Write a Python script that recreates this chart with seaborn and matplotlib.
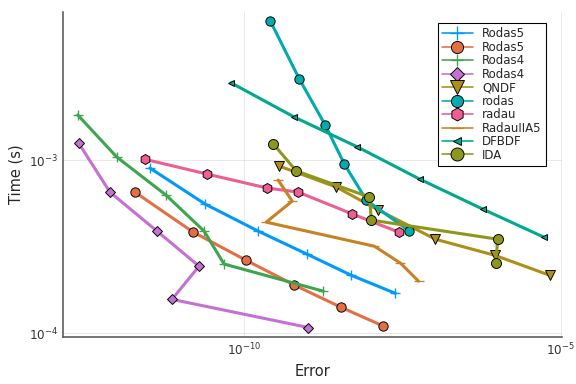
import numpy as np
import pandas as pd
import matplotlib
matplotlib.use("Agg")
import matplotlib.pyplot as plt
import seaborn as sns

# values (error, time in s)
rodas5_a_err = [3.25e-12, 2.42e-11, 1.66e-10, 9.9e-10, 4.93e-9, 2.45e-8]
rodas5_a_time = [8.99e-4, 5.57e-4, 3.89e-4, 2.86e-4, 2.16e-4, 1.70e-4]

rodas5_b_err = [1.88e-12, 1.56e-11, 1.07e-10, 6.18e-10, 3.43e-9, 1.58e-8]
rodas5_b_time = [6.53e-4, 3.84e-4, 2.64e-4, 1.90e-4, 1.41e-4, 1.10e-4]

rodas4_a_err = [2.36e-13, 9.77e-13, 5.83e-12, 2.33e-11, 4.82e-11, 1.78e-9]
rodas4_a_time = [1.82e-3, 1.04e-3, 6.28e-4, 3.89e-4, 2.51e-4, 1.75e-4]

rodas4_b_err = [2.45e-13, 7.59e-13, 4.20e-12, 1.94e-11, 7.26e-12, 1.03e-9]
rodas4_b_time = [1.25e-3, 6.53e-4, 3.89e-4, 2.44e-4, 1.57e-4, 1.08e-4]

qndf_err = [3.58e-10, 2.86e-9, 1.32e-8, 1.05e-7, 9.04e-7, 6.70e-6]
qndf_time = [9.23e-4, 6.98e-4, 5.14e-4, 3.49e-4, 2.82e-4, 2.16e-4]

rodas_err = [2.58e-10, 7.41e-10, 1.91e-9, 3.82e-9, 8.51e-9, 4.08e-8]
rodas_time = [6.36e-3, 2.94e-3, 1.59e-3, 9.48e-4, 5.87e-4, 3.89e-4]

radau_err = [2.71e-12, 2.59e-11, 2.31e-10, 7.14e-10, 5.12e-9, 2.74e-8]
radau_time = [1.01e-3, 8.30e-4, 6.89e-4, 6.53e-4, 4.88e-4, 3.84e-4]

radauiia5_err = [3.45e-10, 5.74e-10, 2.23e-10, 1.14e-8, 2.94e-8, 5.66e-8]
radauiia5_time = [7.66e-4, 5.79e-4, 4.38e-4, 3.18e-4, 2.54e-4, 2.00e-4]

dfbdf_err = [6.22e-11, 6.18e-10, 6.14e-9, 5.87e-8, 5.84e-7, 5.38e-6]
dfbdf_time = [2.79e-3, 1.77e-3, 1.19e-3, 7.77e-4, 5.21e-4, 3.59e-4]

ida_err = [2.88e-10, 6.65e-10, 9.51e-9, 1.02e-8, 1.01e-6, 9.35e-7]
ida_time = [1.24e-3, 8.65e-4, 6.11e-4, 4.50e-4, 3.49e-4, 2.54e-4]

names = ["Rodas5", "Rodas5", "Rodas4", "Rodas4", "QNDF", "rodas", "radau",
         "RadauIIA5", "DFBDF", "IDA"]
errs = [rodas5_a_err, rodas5_b_err, rodas4_a_err, rodas4_b_err, qndf_err,
        rodas_err, radau_err, radauiia5_err, dfbdf_err, ida_err]
times = [rodas5_a_time, rodas5_b_time, rodas4_a_time, rodas4_b_time, qndf_time,
         rodas_time, radau_time, radauiia5_time, dfbdf_time, ida_time]

# Julia Plots default palette
colors = ["#009AFA", "#E36F47", "#3EA44E", "#C371D2", "#AC8E18",
          "#00AAAE", "#ED5E93", "#C68225", "#00A98D", "#8E971D"]
markers = ["+", "o", "+", "D", "v", "o", "h", "_", "<", "o"]
msizes = [8, 7, 7, 5.5, 8, 7, 7.5, 7, 4.5, 7.5]

sns.set_style("white")
plt.rcParams["font.family"] = ["DejaVu Sans"]
plt.rcParams["mathtext.fontset"] = "dejavusans"

fig = plt.figure(figsize=(6, 4), dpi=96)
ax = fig.add_axes([0.109, 0.122, 0.867, 0.847])

for i in range(len(names)):
    df = pd.DataFrame({"err": errs[i], "time": times[i]})
    edge = colors[i] if markers[i] in ("+", "_") else "black"
    sns.lineplot(data=df, x="err", y="time", ax=ax, sort=False, estimator=None,
                 color=colors[i], lw=2.3, marker=markers[i], markersize=msizes[i],
                 markeredgecolor=edge, markeredgewidth=0.7 if edge == "black" else 1.0,
                 label=names[i])

ax.set_xscale("log")
ax.set_yscale("log")
ax.set_xlim(1.37e-13, 1.05e-5)
ax.set_ylim(9.5e-5, 7.16e-3)
ax.set_xticks([1e-10, 1e-5])
ax.set_yticks([1e-4, 1e-3])
ax.minorticks_off()
ax.grid(True, color="black", alpha=0.1, lw=0.6)
ax.tick_params(direction="in", length=4, labelsize=9, colors="0.2")
for s in ["top", "right"]:
    ax.spines[s].set_visible(False)
for s in ["left", "bottom"]:
    ax.spines[s].set_color("0.35")
    ax.spines[s].set_linewidth(1.2)
ax.set_xlabel("Error", fontsize=11)
ax.set_ylabel("Time (s)", fontsize=11)

leg = ax.legend(loc="upper right", fontsize=8.8, frameon=True, fancybox=False,
                edgecolor="black", framealpha=1, handlelength=2.6,
                labelspacing=0.04, borderpad=0.4, markerscale=1.3,
                bbox_to_anchor=(0.98, 0.985))
leg.get_frame().set_linewidth(0.8)
for line in leg.get_lines():
    line.set_linewidth(1.2)

plt.savefig("out.png", dpi=96)
